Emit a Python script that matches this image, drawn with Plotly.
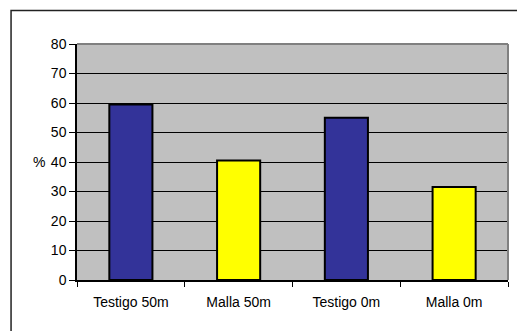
import plotly.graph_objects as go

categories = ["Testigo 50m", "Malla 50m", "Testigo 0m", "Malla 0m"]
values = [59.5, 40.5, 55, 31.5]
bar_colors = ["#333399", "#FFFF00", "#333399", "#FFFF00"]
y_ticks = [0, 10, 20, 30, 40, 50, 60, 70, 80]

FONT = "Liberation Sans, Arial, sans-serif"

fig = go.Figure()
fig.add_trace(go.Bar(
    x=categories, y=values, width=0.4,
    marker=dict(color=bar_colors, line=dict(color="black", width=2)),
    showlegend=False,
))

fig.update_layout(
    width=517, height=331,
    margin=dict(l=77, r=9, t=44, b=51),
    paper_bgcolor="white", plot_bgcolor="#C0C0C0",
    font=dict(family=FONT, color="black"),
    xaxis=dict(
        showline=True, linecolor="black", linewidth=1.5,
        ticks="outside", tickson="boundaries", ticklen=5, tickcolor="black",
        tickfont=dict(size=14, family=FONT), showgrid=False,
        ticklabelstandoff=8,
    ),
    yaxis=dict(
        range=[0, 80], tickvals=y_ticks, showline=True, linecolor="black", linewidth=1.5,
        ticks="outside", ticklen=6, tickcolor="black",
        tickfont=dict(size=14, family=FONT),
        showgrid=True, gridcolor="black", gridwidth=1, zeroline=False,
    ),
    shapes=[
        dict(type="line", xref="paper", yref="paper", x0=0, x1=1, y0=1, y1=1,
             line=dict(color="#808080", width=2)),
        dict(type="line", xref="paper", yref="paper", x0=1, x1=1, y0=0, y1=1,
             line=dict(color="#808080", width=2)),
        dict(type="rect", xref="paper", yref="paper", x0=-0.153, x1=1.1, y0=-0.5, y1=1.142,
             line=dict(color="#222222", width=1.5), fillcolor="rgba(0,0,0,0)"),
    ],
    annotations=[
        dict(text="%", xref="paper", yref="y", x=-0.088, y=40, showarrow=False,
             xanchor="center", yanchor="middle", font=dict(size=14, family=FONT)),
    ],
)

fig.write_html("out.html")
